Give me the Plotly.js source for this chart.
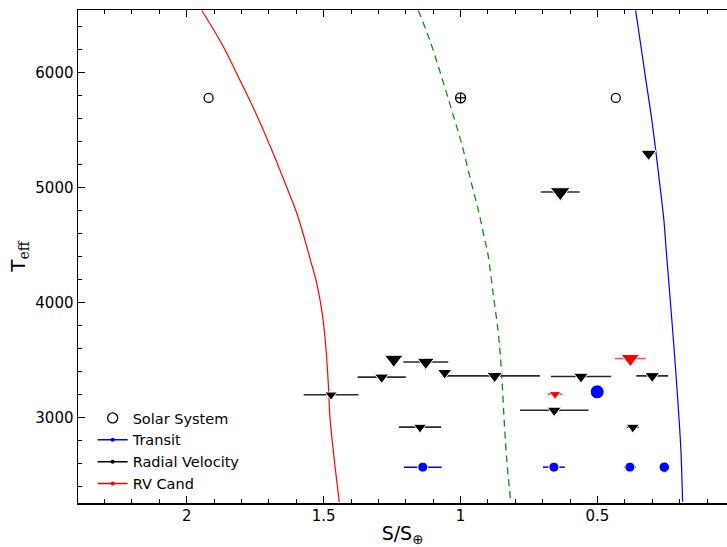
<!DOCTYPE html>
<html><head><meta charset="utf-8">
<script src="https://cdn.plot.ly/plotly-3.0.1.min.js"></script>
<style>html,body{margin:0;padding:0;background:#fff}#chart{width:727px;height:547px}</style>
</head><body><div id="chart"></div>
<script>
// Habitable-zone boundary curves (S/S_earth vs Teff)
const redS  = [1.945,1.872,1.805,1.744,1.684,1.635,1.598,1.568,1.548,1.525,1.5035,1.491,1.483,1.477,1.465,1.443];
const redT  = [6541,6251,5932,5628,5297,5004,4776,4541,4367,4164,3874,3584,3294,3003,2714,2265];
const greenS = [1.154,1.112,1.069,1.032,0.996,0.966,0.935,0.911,0.900,0.881,0.862,0.850,0.8415,0.832,0.817];
const greenT = [6541,6280,5961,5671,5382,5091,4802,4541,4420,4077,3729,3381,3004,2656,2265];
const blueS = [0.3607,0.3425,0.3231,0.3030,0.2873,0.2713,0.2574,0.2490,0.2391,0.2293,0.2198,0.2110,0.2026,0.1953,0.1891];
const blueT = [6541,6251,5932,5613,5323,5004,4714,4453,4164,3874,3584,3295,3004,2714,2265];

// Solar system
const solarNames = ['Venus','Earth','Mars'];
const solarS = [1.92, 1.0, 0.433];
const solarT = [5780, 5780, 5780];

// Transit planets
const transitS = [0.501, 1.138, 0.659, 0.3815, 0.256];
const transitT = [3222, 2567, 2567, 2567, 2567];
const transitErr = [0, 0.069, 0.04, 0.022, 0];

// Radial velocity planets
const rvS = [1.473, 1.288, 1.244, 1.127, 1.058, 0.8755, 0.560, 0.300, 0.658, 1.148, 0.371, 0.636, 0.313];
const rvT = [3197, 3350, 3506, 3482, 3390, 3361, 3356, 3361, 3062, 2915, 2915, 4961, 5295];
const rvErrPlus  = [0.10, 0.088, 0, 0.082, 0, 0.179, 0.11, 0.058, 0.125, 0.077, 0.022, 0.071, 0.02];
const rvErrMinus = [0.10, 0.088, 0, 0.082, 0, 0.165, 0.11, 0.058, 0.125, 0.077, 0.022, 0.071, 0.02];

// RV candidates
const candS = [0.655, 0.380];
const candT = [3202, 3512];
const candErr = [0.027, 0.056];

// marker widths in px (style)
const transitPx = [14, 10, 10, 10, 10.5];
const rvPx = [9.5, 10.7, 14, 13, 11, 11.7, 11.3, 11.3, 10.7, 10, 10, 15, 11.7];
const candPx = [9, 14];
const triSize = w => w.map(v => v * 1.15);

const FONT = 'DejaVu Sans, sans-serif';

const traces = [
  {x: redS, y: redT, mode: 'lines', line: {color: '#ff0000', width: 1.2, shape: 'spline', smoothing: 1}, showlegend: false, hoverinfo: 'skip'},
  {x: greenS, y: greenT, mode: 'lines', line: {color: '#138a13', width: 1.3, dash: '7px,5px', shape: 'spline', smoothing: 1}, showlegend: false, hoverinfo: 'skip'},
  {x: blueS, y: blueT, mode: 'lines', line: {color: '#0000ff', width: 1.2, shape: 'spline', smoothing: 1}, showlegend: false, hoverinfo: 'skip'},
  {x: solarS, y: solarT, text: solarNames, mode: 'markers', showlegend: false,
   marker: {symbol: ['circle-open','circle-cross-open','circle-open'], size: [9, 10, 9], opacity: 1, color: 'black', line: {width: 1.3, color: 'black'}}},
  {x: transitS, y: transitT, mode: 'markers', showlegend: false,
   marker: {symbol: 'circle', size: transitPx, opacity: 1, color: '#0000ff'},
   error_x: {type: 'data', array: transitErr, visible: true, color: '#0000ff', thickness: 1.5, width: 0}},
  {x: rvS, y: rvT, mode: 'markers', showlegend: false,
   marker: {symbol: 'triangle-down', size: triSize(rvPx), opacity: 1, color: 'black'},
   error_x: {type: 'data', symmetric: false, array: rvErrPlus, arrayminus: rvErrMinus, visible: true, color: '#2a2a2a', thickness: 1.6, width: 0}},
  {x: candS, y: candT, mode: 'markers', showlegend: false,
   marker: {symbol: 'triangle-down', size: triSize(candPx), opacity: 1, color: '#ff0000'},
   error_x: {type: 'data', array: candErr, visible: true, color: '#ff5050', thickness: 1.6, width: 0}},
  // legend entries
  {x: [null], y: [null], name: 'Solar System', mode: 'markers', marker: {symbol: 'circle-open', size: 10, color: 'black', line: {width: 1.3}}},
  {x: [null], y: [null], name: 'Transit', mode: 'lines+markers', line: {color: '#0000ff', width: 1.5}, marker: {size: 4, color: '#0000ff'}},
  {x: [null], y: [null], name: 'Radial Velocity', mode: 'lines+markers', line: {color: 'black', width: 1.5}, marker: {size: 4, color: 'black'}},
  {x: [null], y: [null], name: 'RV Cand', mode: 'lines+markers', line: {color: '#ff0000', width: 1.5}, marker: {size: 4, color: '#ff0000'}}
];

const axisCommon = {
  showgrid: false, zeroline: false, showline: true, linecolor: 'black', linewidth: 1.5,
  ticks: 'inside', ticklen: 7, tickwidth: 1.2, tickcolor: 'black',
  tickfont: {family: FONT, size: 15, color: 'black'}, autorange: false
};

const layout = {
  width: 727, height: 547,
  margin: {l: 78, r: 0, t: 10, b: 44},
  paper_bgcolor: 'white', plot_bgcolor: 'white',
  font: {family: FONT, color: 'black'},
  xaxis: Object.assign({}, axisCommon, {
    range: [2.397, 0.027], tickmode: 'linear', tick0: 0, dtick: 0.5, mirror: 'ticks',
    ticklabelstandoff: -2,
    minor: {dtick: 0.1, tick0: 0, ticks: 'inside', ticklen: 4, tickwidth: 1, tickcolor: 'black'},
    title: {text: 'S/S<sub>⊕</sub>', font: {family: FONT, size: 19, color: 'black'}, standoff: 6}
  }),
  yaxis: Object.assign({}, axisCommon, {
    range: [2255, 6545], tickmode: 'linear', tick0: 0, dtick: 1000, mirror: false,
    minor: {dtick: 200, tick0: 0, ticks: 'inside', ticklen: 4, tickwidth: 1, tickcolor: 'black'},
    title: {text: "T<sub><span style=\"font-family:'DejaVu Serif'\">eff</span></sub>", font: {family: FONT, size: 20, color: 'black'}, standoff: 4}
  }),
  legend: {x: 0.0226, y: 0.006, xanchor: 'left', yanchor: 'bottom', bgcolor: 'rgba(0,0,0,0)', borderwidth: 0,
    font: {family: FONT, size: 14.5, color: 'black'}},
  showlegend: true
};

Plotly.newPlot('chart', traces, layout, {displayModeBar: false, staticPlot: true});
</script></body></html>
